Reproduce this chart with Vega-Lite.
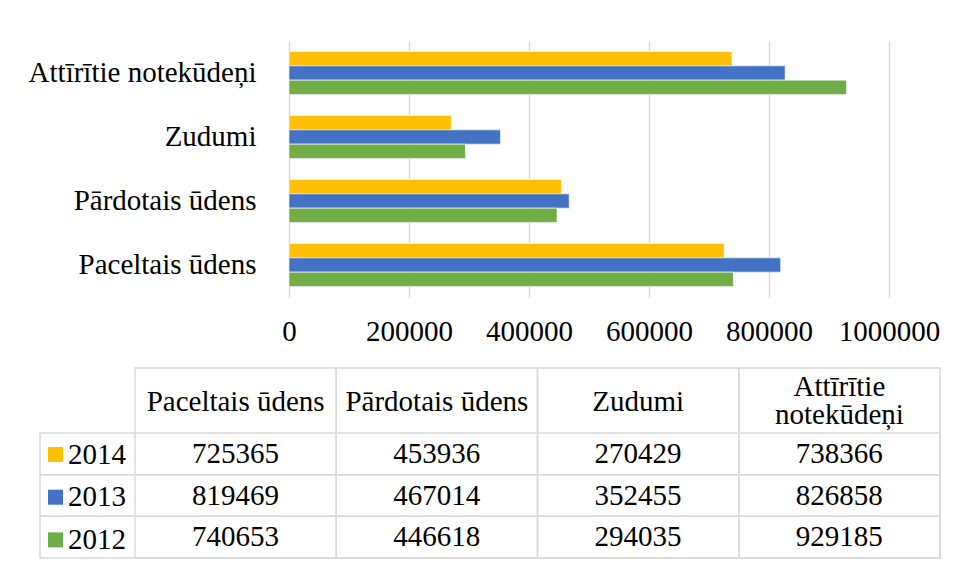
{
  "$schema": "https://vega.github.io/schema/vega-lite/v6.json",
  "padding": {"left": 28, "top": 41, "right": 15, "bottom": 21},
  "background": "white",
  "config": {"view": {"stroke": null}, "font": "Liberation Serif"},
  "datasets": {
    "water": [
      {"category": "Paceltais ūdens", "year": "2014", "value": 725365},
      {"category": "Paceltais ūdens", "year": "2013", "value": 819469},
      {"category": "Paceltais ūdens", "year": "2012", "value": 740653},
      {"category": "Pārdotais ūdens", "year": "2014", "value": 453936},
      {"category": "Pārdotais ūdens", "year": "2013", "value": 467014},
      {"category": "Pārdotais ūdens", "year": "2012", "value": 446618},
      {"category": "Zudumi", "year": "2014", "value": 270429},
      {"category": "Zudumi", "year": "2013", "value": 352455},
      {"category": "Zudumi", "year": "2012", "value": 294035},
      {"category": "Attīrītie notekūdeņi", "year": "2014", "value": 738366},
      {"category": "Attīrītie notekūdeņi", "year": "2013", "value": 826858},
      {"category": "Attīrītie notekūdeņi", "year": "2012", "value": 929185}
    ]
  },
  "spacing": 21,
  "resolve": {"legend": {"color": "independent"}},
  "vconcat": [
    {
      "width": 900,
      "height": 256,
      "data": {"name": "water"},
      "mark": {"type": "bar", "stroke": "white", "strokeWidth": 0.6},
      "encoding": {
        "y": {
          "field": "category", "type": "nominal",
          "sort": ["Attīrītie notekūdeņi", "Zudumi", "Pārdotais ūdens", "Paceltais ūdens"],
          "scale": {"paddingInner": 0.33, "paddingOuter": 0.165},
          "axis": {"title": null, "domain": false, "ticks": false, "labelPadding": -216, "labelFontSize": 29, "labelFont": "Liberation Serif", "labelColor": "#000000", "labelLimit": 400}
        },
        "x": {
          "field": "value", "type": "quantitative",
          "scale": {"domain": [-415000, 1085000], "nice": false, "zero": false},
          "axis": {"title": null, "values": [0, 200000, 400000, 600000, 800000, 1000000], "format": "d", "domain": false, "ticks": false, "grid": true, "gridColor": "#d9d9d9", "gridWidth": 1.5, "labelPadding": 20, "labelFontSize": 29, "labelFont": "Liberation Serif", "labelColor": "#000000", "labelFlush": false}
        },
        "yOffset": {"field": "year", "type": "nominal", "sort": ["2014", "2013", "2012"]},
        "color": {
          "field": "year", "type": "nominal",
          "scale": {"domain": ["2014", "2013", "2012"], "range": ["#FFC000", "#4472C4", "#70AD47"]},
          "legend": null
        }
      }
    },
    {
      "width": 900,
      "height": 190,
      "data": {"name": "water"},
      "layer": [
        {
          "transform": [{"aggregate": [{"op": "count", "as": "n"}], "groupby": ["category"]}],
          "mark": {"type": "rect", "fill": "transparent", "stroke": "#d9d9d9", "strokeWidth": 1.5},
          "encoding": {
            "x": {
              "field": "category", "type": "nominal",
              "sort": ["Paceltais ūdens", "Pārdotais ūdens", "Zudumi", "Attīrītie notekūdeņi"],
              "scale": {"paddingInner": 0, "paddingOuter": 0.236, "align": 1},
              "axis": {"orient": "top", "title": null, "domain": false, "ticks": false, "tickSize": 0, "grid": false, "labelAngle": 0, "labelPadding": -33, "labelBaseline": {"condition": {"test": "length(datum.label) > 16", "value": "bottom"}, "value": "middle"}, "labelFontSize": 29, "labelFont": "Liberation Serif", "labelColor": "#000000", "labelLimit": 400, "labelLineHeight": 28, "labelExpr": "length(datum.label) > 16 ? split(datum.label, ' ') : datum.label"}
            }
          }
        },
        {
          "transform": [{"aggregate": [{"op": "count", "as": "n"}], "groupby": ["year"]}],
          "mark": {"type": "rect", "fill": "transparent", "stroke": "#d9d9d9", "strokeWidth": 1.5},
          "encoding": {
            "y": {
              "field": "year", "type": "nominal", "sort": ["2014", "2013", "2012"],
              "scale": {"paddingInner": 0, "paddingOuter": 0.78, "align": 1},
              "axis": null
            }
          }
        },
        {
          "mark": {"type": "text", "fontSize": 29, "font": "Liberation Serif", "color": "#000000"},
          "encoding": {
            "x": {
              "field": "category", "type": "nominal",
              "sort": ["Paceltais ūdens", "Pārdotais ūdens", "Zudumi", "Attīrītie notekūdeņi"],
              "scale": {"paddingInner": 0, "paddingOuter": 0.236, "align": 1},
              "axis": {"orient": "top", "title": null, "domain": false, "ticks": false, "tickSize": 0, "grid": false, "labelAngle": 0, "labelPadding": -33, "labelBaseline": {"condition": {"test": "length(datum.label) > 16", "value": "bottom"}, "value": "middle"}, "labelFontSize": 29, "labelFont": "Liberation Serif", "labelColor": "#000000", "labelLimit": 400, "labelLineHeight": 28, "labelExpr": "length(datum.label) > 16 ? split(datum.label, ' ') : datum.label"}
            },
            "y": {
              "field": "year", "type": "nominal", "sort": ["2014", "2013", "2012"],
              "scale": {"paddingInner": 0, "paddingOuter": 0.78, "align": 1},
              "axis": null
            },
            "text": {"field": "value", "type": "quantitative", "format": "d"}
          }
        },
        {
          "mark": {"type": "point", "shape": "square", "filled": true, "opacity": 0},
          "encoding": {
            "y": {
              "field": "year", "type": "nominal", "sort": ["2014", "2013", "2012"],
              "scale": {"paddingInner": 0, "paddingOuter": 0.78, "align": 1},
              "axis": null
            },
            "color": {
              "field": "year", "type": "nominal",
              "scale": {"domain": ["2014", "2013", "2012"], "range": ["#FFC000", "#4472C4", "#70AD47"]},
              "legend": {"orient": "none", "legendX": 1, "legendY": 72, "title": null, "direction": "vertical", "symbolType": "square", "symbolSize": 225, "symbolStrokeWidth": 0, "symbolOpacity": 1, "labelFontSize": 29, "labelFont": "Liberation Serif", "labelColor": "#000000", "labelOffset": -2, "rowPadding": 12.7, "padding": 0}
            }
          }
        }
      ]
    }
  ]
}
